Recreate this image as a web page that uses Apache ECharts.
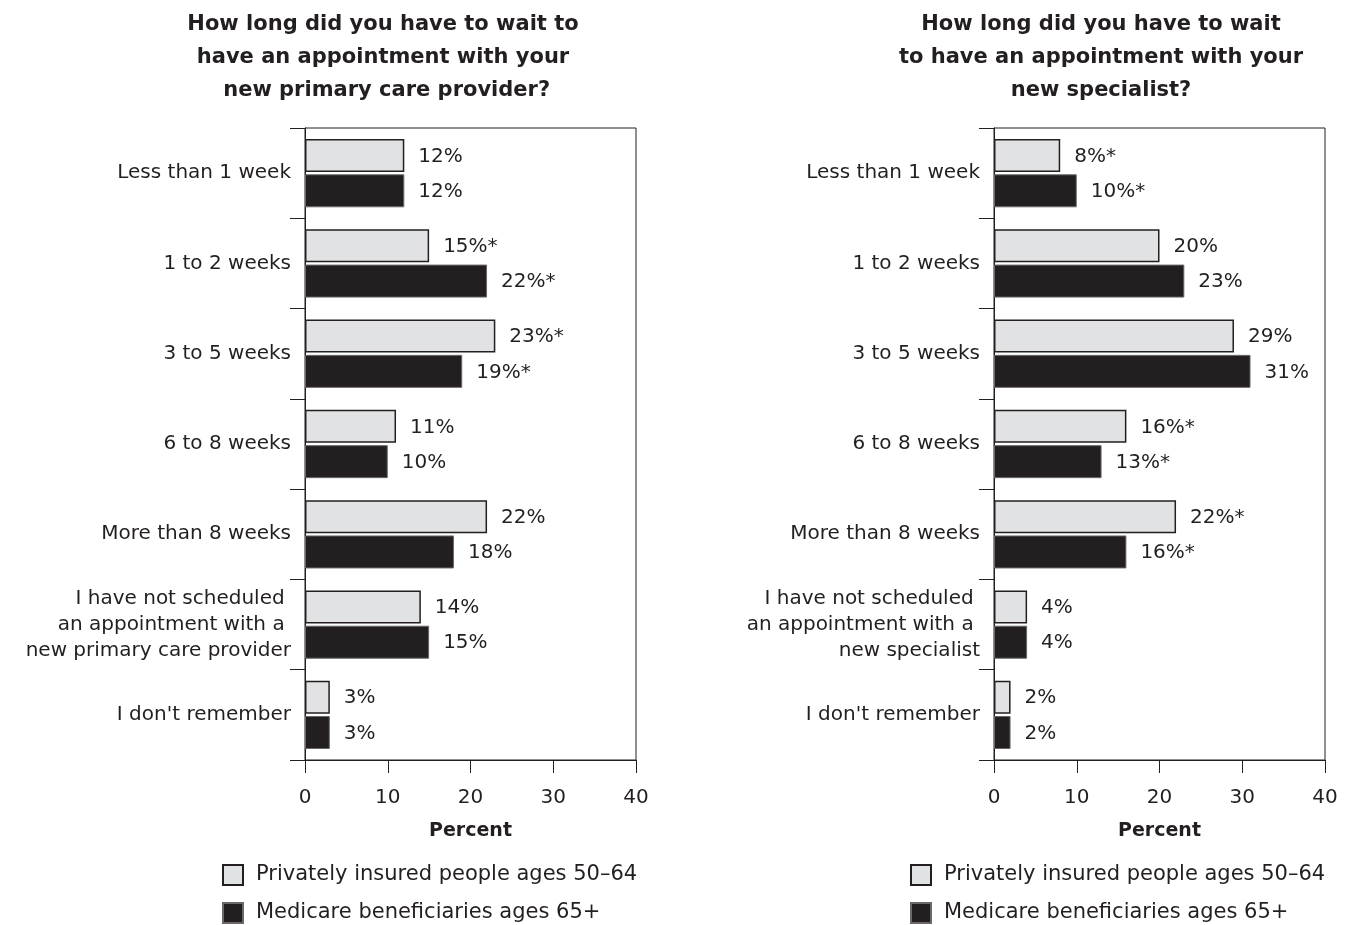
<!DOCTYPE html>
<html>
<head>
<meta charset="utf-8">
<script src="https://cdn.jsdelivr.net/npm/echarts@6/dist/echarts.min.js"></script>
<style>
  html, body { margin: 0; padding: 0; background: #fff; }
  #chart { width: 1348px; height: 925px; }
</style>
</head>
<body>
<div id="chart"></div>
<script>
// Wait-time categories for each panel
const primaryCategories = [
  'Less than 1 week',
  '1 to 2 weeks',
  '3 to 5 weeks',
  '6 to 8 weeks',
  'More than 8 weeks',
  'I have not scheduled \nan appointment with a \nnew primary care provider',
  "I don't remember"
];
const specialistCategories = [
  'Less than 1 week',
  '1 to 2 weeks',
  '3 to 5 weeks',
  '6 to 8 weeks',
  'More than 8 weeks',
  'I have not scheduled \nan appointment with a \nnew specialist',
  "I don't remember"
];

// Percent values
const primaryPrivate = [12, 15, 23, 11, 22, 14, 3];
const primaryMedicare = [12, 22, 19, 10, 18, 15, 3];
const specialistPrivate = [8, 20, 29, 16, 22, 4, 2];
const specialistMedicare = [10, 23, 31, 13, 16, 4, 2];

// Statistically significant differences (marked with *)
const primaryPrivateSig = [false, true, true, false, false, false, false];
const primaryMedicareSig = [false, true, true, false, false, false, false];
const specialistPrivateSig = [true, false, false, true, true, false, false];
const specialistMedicareSig = [true, false, false, true, true, false, false];

const xTicks = [0, 10, 20, 30, 40];

const seriesNames = ['Privately insured people ages 50\u201364', 'Medicare beneficiaries ages 65+'];
const primaryTitle = 'How long did you have to wait to\nhave an appointment with your\n new primary care provider?';
const specialistTitle = 'How long did you have to wait\nto have an appointment with your\nnew specialist?';

const INK = '#231f20';
const LIGHT = '#e1e2e4';
const FONT = 'DejaVu Sans';

function grid(left) {
  return {
    left: left, top: 128, width: 331, height: 632,
    show: true, borderColor: INK, borderWidth: 1, backgroundColor: 'transparent',
    containLabel: false
  };
}

function xAxis(idx) {
  return {
    type: 'value', gridIndex: idx, min: xTicks[0], max: xTicks[xTicks.length - 1], interval: 10,
    axisLine: { show: true, lineStyle: { color: INK, width: 1 } },
    axisTick: { show: true, length: 13, lineStyle: { color: INK, width: 1 } },
    splitLine: { show: false },
    axisLabel: { color: INK, fontFamily: FONT, fontSize: 20, margin: 28 },
    name: 'Percent', nameLocation: 'middle', nameGap: 62,
    nameTextStyle: { color: INK, fontFamily: FONT, fontSize: 19, fontWeight: 'bold' }
  };
}

function yAxis(idx, cats) {
  return {
    type: 'category', gridIndex: idx, data: cats, inverse: true,
    axisLine: { show: true, lineStyle: { color: INK, width: 1 } },
    axisTick: { show: true, length: 15, alignWithLabel: false, lineStyle: { color: INK, width: 1 } },
    splitLine: { show: false },
    axisLabel: { color: INK, fontFamily: FONT, fontSize: 20, margin: 14, lineHeight: 26, align: 'right' }
  };
}

function barSeries(name, idx, values, sig, light) {
  return {
    name: name, type: 'bar', xAxisIndex: idx, yAxisIndex: idx,
    data: values, barWidth: 33, barGap: '7%', barCategoryGap: '20%',
    itemStyle: light
      ? { color: LIGHT, borderColor: INK, borderWidth: 1.5 }
      : { color: INK, borderColor: '#6a6869', borderWidth: 1 },
    label: {
      show: true, position: 'right', distance: 14, offset: [0, 1],
      color: INK, fontFamily: FONT, fontSize: 20,
      formatter: p => p.value + '%' + (sig[p.dataIndex] ? '*' : '')
    },
    animation: false
  };
}

// One legend entry per component so each panel gets its own stacked key
function legendItem(left, top, name) {
  return {
    left: left, top: top, orient: 'vertical',
    itemWidth: 20, itemHeight: 20,
    icon: 'rect',
    data: [name],
    textStyle: { color: INK, fontFamily: FONT, fontSize: 21, padding: [0, 0, 0, 8] },
    selectedMode: false
  };
}

const chart = echarts.init(document.getElementById('chart'), null, { renderer: 'canvas' });
chart.setOption({
  backgroundColor: '#ffffff',
  animation: false,
  title: [
    { text: primaryTitle, left: 378, top: 3, textAlign: 'center',
      textStyle: { color: INK, fontFamily: FONT, fontSize: 21, fontWeight: 'bold', lineHeight: 33 } },
    { text: specialistTitle, left: 1096, top: 3, textAlign: 'center',
      textStyle: { color: INK, fontFamily: FONT, fontSize: 21, fontWeight: 'bold', lineHeight: 33 } }
  ],
  legend: [
    legendItem(217, 859, seriesNames[0]),
    legendItem(217, 897, seriesNames[1]),
    legendItem(905, 859, seriesNames[0]),
    legendItem(905, 897, seriesNames[1])
  ],
  grid: [grid(305), grid(994)],
  xAxis: [xAxis(0), xAxis(1)],
  yAxis: [yAxis(0, primaryCategories), yAxis(1, specialistCategories)],
  series: [
    barSeries(seriesNames[0], 0, primaryPrivate, primaryPrivateSig, true),
    barSeries(seriesNames[1], 0, primaryMedicare, primaryMedicareSig, false),
    barSeries(seriesNames[0], 1, specialistPrivate, specialistPrivateSig, true),
    barSeries(seriesNames[1], 1, specialistMedicare, specialistMedicareSig, false)
  ]
});
</script>
</body>
</html>
